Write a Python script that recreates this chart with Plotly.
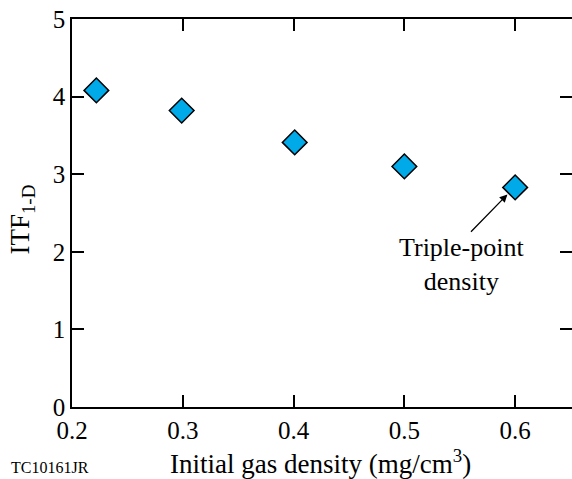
import plotly.graph_objects as go

density = [0.222, 0.299, 0.401, 0.500, 0.600]
itf = [4.08, 3.82, 3.41, 3.10, 2.83]
x_ticks = [0.2, 0.3, 0.4, 0.5, 0.6]
y_ticks = [0, 1, 2, 3, 4, 5]

FONT = "Liberation Serif, Times New Roman, DejaVu Serif, serif"

fig = go.Figure()
fig.add_trace(go.Scatter(
    x=density, y=itf, mode="markers",
    marker=dict(symbol="diamond", size=19, color="#00A9E8",
                line=dict(color="black", width=1.5)),
    showlegend=False, cliponaxis=False,
))

fig.update_layout(
    template="none",
    width=572, height=479,
    margin=dict(l=72, r=0, t=19, b=72),
    paper_bgcolor="white", plot_bgcolor="white",
    font=dict(family=FONT, color="black", size=25),
    xaxis=dict(range=[0.2, 0.6513], tickvals=x_ticks,
               ticktext=[f"{v:.1f}" for v in x_ticks],
               ticks="inside", ticklen=12, tickwidth=1.5, tickcolor="black",
               showline=True, linecolor="black", linewidth=1.5, mirror="ticks",
               showgrid=False, zeroline=False, ticklabelstandoff=0,
               tickfont=dict(family=FONT, size=25, color="black")),
    yaxis=dict(range=[0, 5], tickvals=y_ticks,
               ticks="inside", ticklen=12, tickwidth=1.5, tickcolor="black",
               showline=True, linecolor="black", linewidth=1.5, mirror="ticks",
               showgrid=False, zeroline=False,
               tickfont=dict(family=FONT, size=25, color="black")),
    annotations=[
        dict(text="Initial gas density (mg/cm<sup>3</sup>)", xref="paper", yref="paper",
             x=0.496, y=-0.092, xanchor="center", yanchor="top", showarrow=False,
             font=dict(family=FONT, size=27, color="black")),
        dict(text="ITF<sub>1-D</sub>", xref="paper", yref="paper",
             x=-0.1, y=0.483, xanchor="center", yanchor="middle", textangle=-90,
             showarrow=False, font=dict(family=FONT, size=27, color="black")),
        dict(text="TC10161JR", xref="paper", yref="paper",
             x=-0.127, y=-0.13, xanchor="left", yanchor="top", showarrow=False,
             font=dict(family=FONT, size=16, color="black")),
        dict(text="Triple-point<br>density", x=0.5515, y=1.83, xref="x", yref="y",
             showarrow=False, xanchor="center", yanchor="middle",
             font=dict(family=FONT, size=26, color="black")),
        dict(text="", x=0.593, y=2.74, xref="x", yref="y",
             ax=0.5588, ay=2.24, axref="x", ayref="y",
             showarrow=True, arrowhead=2, arrowsize=1.2, arrowwidth=1.3,
             arrowcolor="black"),
    ],
)

fig.write_html("out.html")
